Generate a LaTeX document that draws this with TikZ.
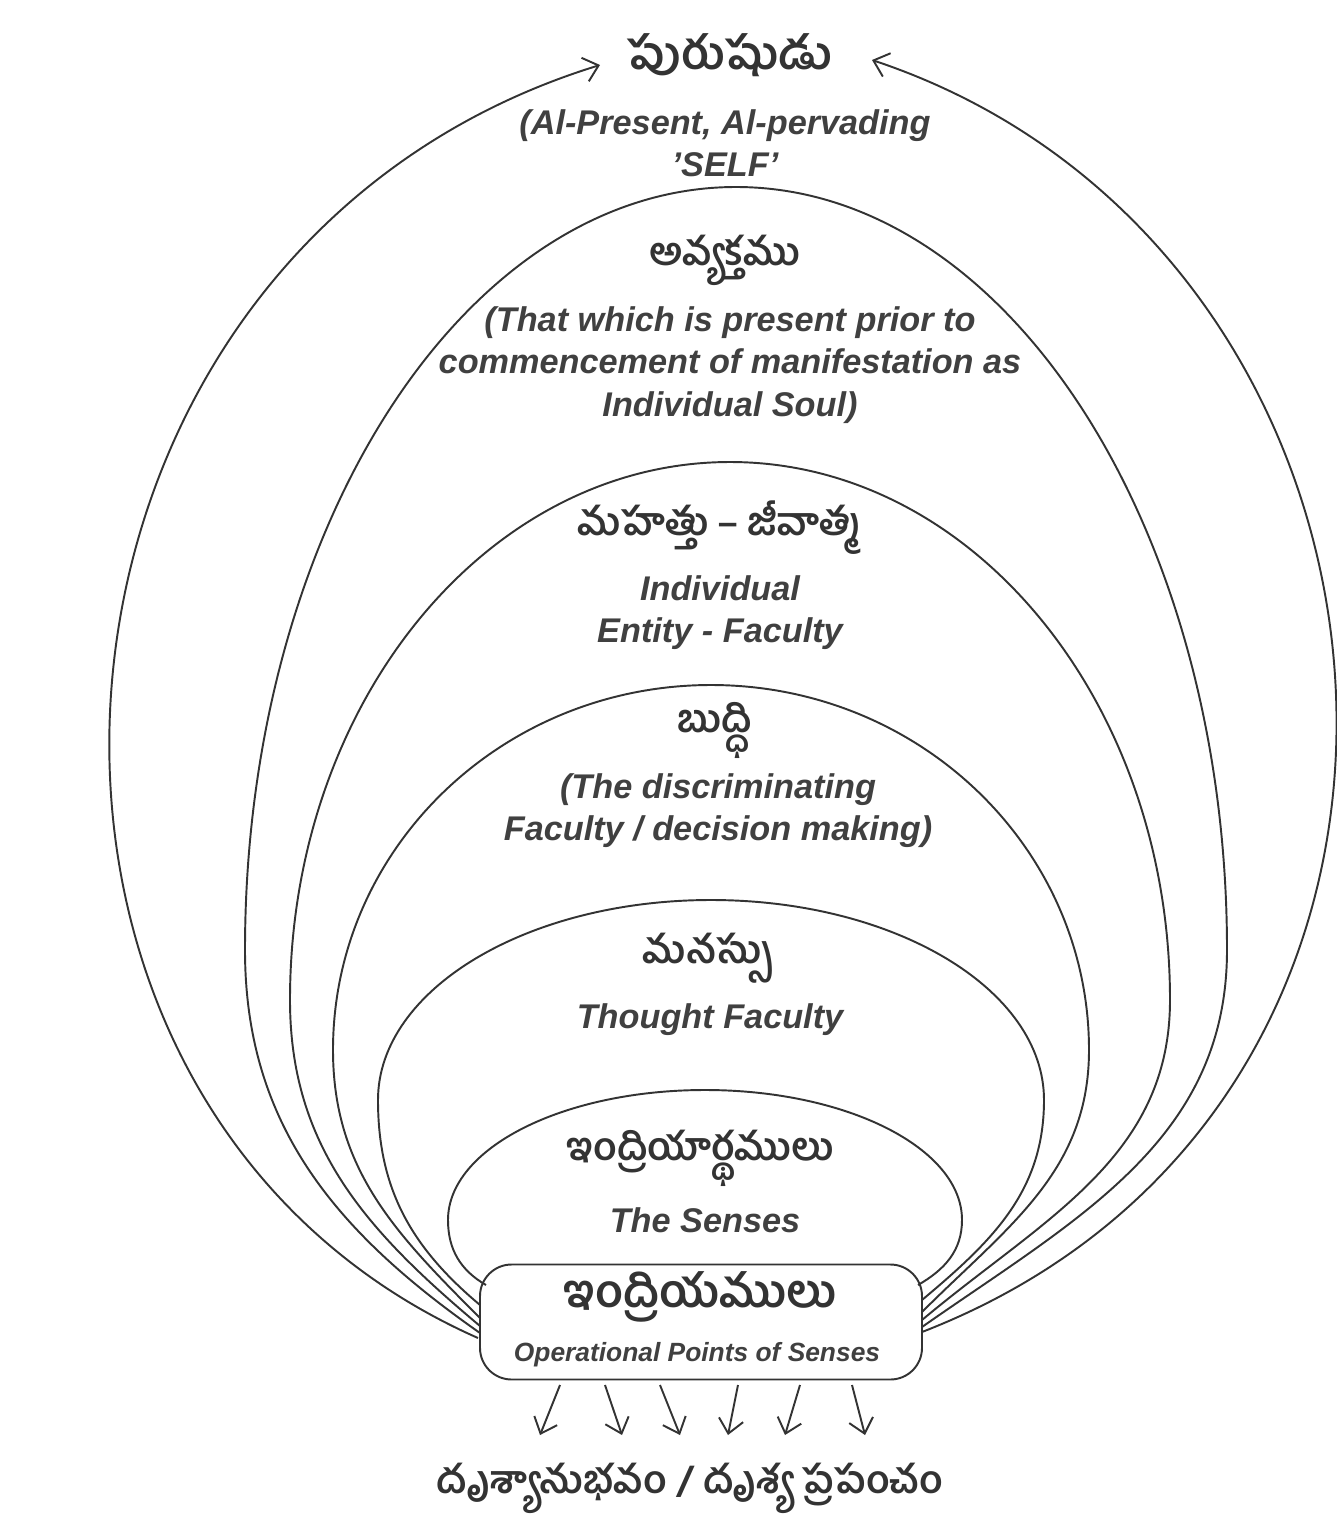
\documentclass[tikz,border=0pt]{standalone}
\usepackage{fontspec}
\setmainfont{Liberation Sans}
\newfontfamily\tel[Script=Telugu]{Hind Guntur}
\usetikzlibrary{arrows.meta}
\begin{document}
\begin{tikzpicture}[x=0.02cm,y=-0.02cm,
  en/.style={font=\fontsize{19.5}{24}\selectfont\bfseries\itshape,text=black!75,align=center,inner sep=0},
  te/.style={font=\tel\fontsize{22}{26}\selectfont\bfseries,text=black!80,inner sep=0},
  ln/.style={draw=black!80,line width=1.1pt},
  arr/.style={ln,-{Straight Barb[length=8pt,width=14pt]}}]
\useasboundingbox (0,0) rectangle (1337,1522);
% box
\node[ln,rounded corners=18pt,minimum width=442*0.02cm,minimum height=115*0.02cm] (box) at (701,1322) {};
% arches
\draw[ln] (486,1285) to[out=150,in=-90] (448,1220) arc[start angle=180,end angle=360,x radius=257,y radius=130] to[out=-90,in=30] (918,1285);
\draw[ln] (480,1305) to[out=140,in=-90] (378,1100) arc[start angle=180,end angle=360,x radius=333,y radius=200] to[out=-90,in=40] (922,1300);
\draw[ln] (480,1318) to[out=135,in=-90] (333,1050) arc[start angle=180,end angle=360,x radius=378,y radius=365] to[out=-90,in=45] (922,1312);
\draw[ln] (480,1326) to[out=140,in=-90] (290,1000) arc[start angle=180,end angle=360,x radius=440,y radius=538] to[out=-90,in=40] (922,1320);
\draw[ln] (480,1333) to[out=145,in=-90] (245,950) arc[start angle=180,end angle=360,x radius=491,y radius=763] to[out=-90,in=35] (922,1327);
% outer arrows
\coordinate (la) at (600,65);
\coordinate (ra) at (872,60);
\draw[arr] (478,1338) .. controls (-60,1100) and (0,250) .. (la);
\draw[arr] (922,1332) .. controls (1520,1100) and (1442,250) .. (ra);
% bottom arrows
\foreach \a/\b [count=\i] in {560/540,605/622,660/680,738/728,800/785,852/865}{
  \coordinate (s\i) at (\a,1385); \coordinate (e\i) at (\b,1435);
  \draw[ln,-{Straight Barb[length=8pt,width=14pt]}] (s\i) -- (e\i);}
% texts
\node[te,font=\tel\fontsize{26}{30}\selectfont\bfseries] (t1) at (730,55) {పురుషుడు};
\node[en] (e1) at (725,143) {(Al-Present, Al-pervading\\'SELF'};
\node[te] (t2) at (725,260) {అవ్యక్తము};
\node[en] (e2) at (730,365) {(That which is present prior to\\commencement of manifestation as\\Individual Soul)};
\node[te] (t3) at (720,528) {మహత్తు – జీవాత్మ};
\node[en] (e3) at (720,613) {Individual\\Entity - Faculty};
\node[te] (t4) at (715,730) {బుద్ధి};
\node[en] (e4) at (718,811) {(The discriminating\\Faculty / decision making)};
\node[te] (t5) at (708,958) {మనస్సు};
\node[en] (e5) at (710,1020) {Thought Faculty};
\node[te] (t6) at (700,1158) {ఇంద్రియార్థములు};
\node[en] (e6) at (705,1220) {The Senses};
\node[te,font=\tel\fontsize{26}{30}\selectfont\bfseries] (t7) at (700,1297) {ఇంద్రియములు};
\node[en,font=\fontsize{15}{18}\selectfont\bfseries\itshape] (e7) at (697,1355) {Operational Points of Senses};
\node[te] (t8) at (690,1488) {దృశ్యానుభవం / దృశ్య ప్రపంచం};
\end{tikzpicture}
\end{document}
